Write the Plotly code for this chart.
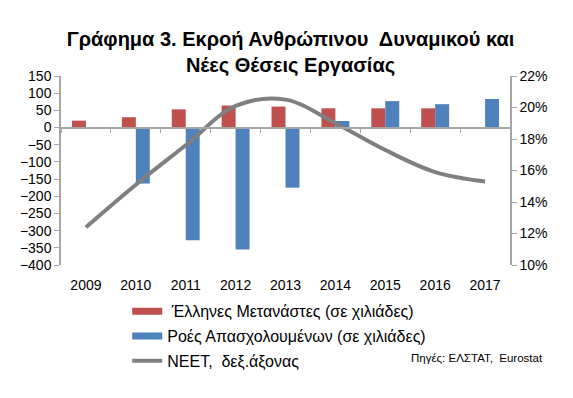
import plotly.graph_objects as go

years = ["2009", "2010", "2011", "2012", "2013", "2014", "2015", "2016", "2017"]
migrants = [20, 30, 53, 64, 61, 56, 56, 56, None]
employment_flows = [-2, -163, -328, -355, -175, 19, 77, 68, 83]
neet = [12.4, 15.1, 17.6, 20.1, 20.5, 19.0, 17.3, 15.9, 15.3]

left_ticks = list(range(-400, 151, 50))
right_ticks = list(range(10, 23, 2))
left_range = [-400, 150]
right_range = [10, 22]

name_mig = " Έλληνες Μετανάστες (σε χιλιάδες)"
name_emp = "Ροές Απασχολουμένων (σε χιλιάδες)"
name_neet = "NEET,  δεξ.άξονας"

font = "Liberation Sans, Arial, sans-serif"
axis_grey = "#A6A6A6"
red = "#C0504D"
blue = "#4F81BD"
grey = "#7F7F7F"

fig = go.Figure()
fig.add_trace(go.Bar(x=years, y=migrants, name=name_mig, showlegend=False,
                     marker=dict(color=red, line=dict(width=0))))
fig.add_trace(go.Bar(x=years, y=employment_flows, name=name_emp, showlegend=False,
                     marker=dict(color=blue, line=dict(width=0))))
fig.add_trace(go.Scatter(x=years, y=neet, name=name_neet, yaxis="y2", showlegend=False,
                         mode="lines", line=dict(color=grey, width=4, shape="spline", smoothing=1.0)))
# legend entries (wide rectangular keys like the original)
fig.add_trace(go.Scatter(x=[None], y=[None], name=name_mig, mode="lines",
                         line=dict(color=red, width=7), legendgroup="a"))
fig.add_trace(go.Scatter(x=[None], y=[None], name=name_emp, mode="lines",
                         line=dict(color=blue, width=7), legendgroup="b"))
fig.add_trace(go.Scatter(x=[None], y=[None], name=name_neet, mode="lines",
                         line=dict(color=grey, width=4), legendgroup="c"))
# invisible trace to draw the category axis line at zero
fig.add_trace(go.Scatter(x=years, y=[0]*len(years), xaxis="x2", mode="lines",
                         line=dict(width=0), showlegend=False, hoverinfo="skip", opacity=0))

zero_pos = (0 - left_range[0]) / (left_range[1] - left_range[0])

fig.update_layout(
    width=565, height=390,
    margin=dict(l=45, r=63, t=68, b=133),
    paper_bgcolor="white", plot_bgcolor="white",
    font=dict(family=font, size=14, color="black"),
    title=dict(text="<b>Γράφημα 3. Εκροή Ανθρώπινου  Δυναμικού και<br>Νέες Θέσεις Εργασίας</b>",
               x=0.5, xanchor="center", y=0.903, yanchor="middle",
               font=dict(family=font, size=20, color="black")),
    barmode="group", bargap=0.44, bargroupgap=0,
    showlegend=True,
    legend=dict(x=0.1475, y=-0.155, xanchor="left", yanchor="top",
                font=dict(family=font, size=16, color="black"),
                itemwidth=30, tracegroupgap=1, bgcolor="rgba(0,0,0,0)"),
    xaxis=dict(type="category", categoryorder="array", categoryarray=years,
               range=[-0.5, 8.5], showline=False, ticks="", showgrid=False,
               tickfont=dict(family=font, size=14), ticklabelstandoff=10),
    xaxis2=dict(type="category", categoryorder="array", categoryarray=years,
                range=[-0.5, 8.5], overlaying="x", anchor="free", position=zero_pos,
                showline=True, linecolor=axis_grey, linewidth=1.5,
                ticks="outside", tickson="boundaries", ticklen=5, tickcolor=axis_grey,
                showticklabels=False, showgrid=False),
    yaxis=dict(range=left_range, tickvals=left_ticks, showgrid=False, zeroline=False,
               showline=True, linecolor=axis_grey, linewidth=1.5,
               ticks="outside", ticklen=5, tickcolor=axis_grey,
               tickfont=dict(family=font, size=14)),
    yaxis2=dict(range=right_range, tickvals=right_ticks, ticktext=[f"{v}%" for v in right_ticks],
                overlaying="y", side="right", showgrid=False, zeroline=False,
                showline=True, linecolor=axis_grey, linewidth=1.5,
                ticks="outside", ticklen=5, tickcolor=axis_grey,
                tickfont=dict(family=font, size=14)),
    annotations=[dict(text="Πηγές: ΕΛΣΤΑΤ,  Eurostat", xref="paper", yref="paper",
                      x=1.077, y=-0.49, xanchor="right", yanchor="middle", showarrow=False,
                      font=dict(family=font, size=11.5, color="black"))],
)

fig.write_html("out.html")
